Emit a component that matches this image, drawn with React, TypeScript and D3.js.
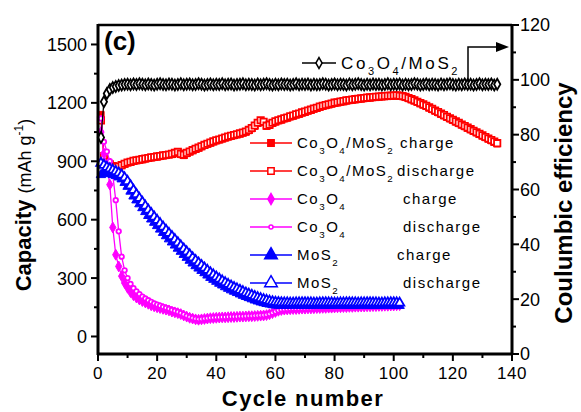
import React from "react";
import * as d3 from "d3";

const ceValues = [79,92,95,96.5,97.2,97.6,97.9,98.1,98.3,98.4,
98.2,98.5,98.3,98.6,98.4,98.2,98.5,98.3,98.1,98.4,
98.6,98.3,98.2,98.5,98.4,98.1,98.3,98.6,98.2,98.4,
98.5,98.2,98.3,98.6,98.4,98.1,98.3,98.5,98.2,98.4,
98.3,98.6,98.2,98.4,98.5,98.1,98.3,98.4,98.6,98.2,
98.4,98.3,98.1,98.5,98.2,98.4,98.6,98.3,98.1,98.4,
98.2,98.5,98.3,98.4,98.1,98.3,98.6,98.2,98.4,98.3,
98.5,98.1,98.4,98.2,98.3,98.6,98.4,98.1,98.3,98.5,
98.2,98.4,98.3,98.1,98.5,98.2,98.4,98.6,98.3,98.1,
98.4,98.2,98.5,98.3,98.4,98.1,98.3,98.6,98.2,98.4,
98.3,98.5,98.1,98.4,98.2,98.3,98.6,98.4,98.1,98.3,
98.5,98.2,98.4,98.3,98.1,98.5,98.2,98.4,98.6,98.3,
98.1,98.4,98.2,98.5,98.3,98.4,98.1,98.3,98.6,98.2,
98.4,98.3,98.5,98.1,98.4];

const compCharge = [1140,920,890,880,872,868,870,878,885,892,
895,900,903,906,908,912,915,918,920,922,
925,928,930,933,935,940,945,935,930,940,
948,955,962,968,975,982,988,994,1000,1005,
1010,1015,1020,1025,1028,1032,1036,1040,1045,1050,
1058,1068,1080,1095,1108,1100,1080,1085,1095,1102,
1108,1112,1118,1122,1128,1132,1138,1142,1148,1152,
1158,1162,1168,1172,1178,1182,1186,1190,1194,1198,
1200,1204,1206,1210,1212,1214,1216,1218,1220,1222,
1224,1225,1227,1228,1230,1231,1232,1233,1234,1235,
1236,1234,1232,1228,1222,1216,1210,1203,1196,1189,
1182,1174,1166,1158,1150,1142,1134,1126,1118,1110,
1102,1094,1086,1078,1070,1062,1054,1046,1038,1030,
1022,1014,1006,998,990];

const compDischarge = [1110,925,895,884,876,871,873,880,887,894,
897,902,905,908,911,914,917,920,922,925,
927,930,932,935,938,943,948,938,933,943,
950,957,964,970,977,984,990,996,1002,1008,
1012,1017,1022,1027,1031,1035,1039,1043,1048,1053,
1061,1071,1084,1098,1111,1103,1083,1088,1098,1105,
1111,1115,1121,1125,1131,1135,1141,1145,1151,1155,
1161,1165,1171,1175,1181,1185,1189,1193,1197,1201,
1203,1207,1209,1213,1215,1217,1219,1221,1223,1225,
1227,1228,1230,1231,1233,1234,1235,1236,1237,1238,
1239,1237,1235,1231,1225,1219,1213,1206,1199,1192,
1185,1177,1169,1161,1153,1145,1137,1129,1121,1113,
1105,1097,1089,1081,1073,1065,1057,1049,1041,1033,
1025,1017,1009,1001,993];

const coCharge = [1050,940,880,780,560,420,360,310,275,250,
228,212,200,190,182,175,168,160,155,150,
146,142,138,134,128,124,120,115,108,102,
96,92,88,86,88,90,92,94,95,96,
97,98,98,99,100,100,101,102,102,103,
104,104,105,106,107,108,110,114,120,126,
132,136,138,139,140,141,141,142,143,143,
144,144,145,146,146,147,147,148,148,149,
150,150,151,151,152,152,153,153,154,154,
155,155,156,156,157,157,158,158,159,159,
160,161];

const coDischarge = [1120,1000,950,900,830,700,540,410,340,300,
270,248,232,218,205,195,186,178,170,164,
158,152,147,142,136,131,126,120,113,106,
100,95,91,89,90,92,94,96,97,98,
99,100,100,101,102,102,103,104,104,105,
106,106,107,108,109,110,112,116,122,128,
134,138,140,141,142,143,143,144,145,145,
146,146,147,148,148,149,149,150,150,151,
152,152,153,153,154,154,155,155,156,156,
157,157,158,158,159,159,160,160,161,162,
163,165];

const mosCharge = [830,845,840,835,830,825,818,808,790,770,
745,720,700,680,660,640,620,602,585,568,
550,533,516,500,484,468,452,436,420,405,
390,376,362,350,338,326,314,302,292,282,
272,263,254,246,238,231,224,217,210,204,
198,192,186,181,176,172,168,165,162,160,
159,158,158,159,159,160,160,159,159,158,
158,159,159,160,160,159,159,158,159,159,
160,160,159,159,158,158,159,159,160,160,
159,159,158,158,159,159,160,160,159,159,
158,158];

const mosDischarge = [890,880,870,862,855,848,840,830,815,797,
775,752,730,710,690,670,650,632,614,597,
580,563,546,530,514,498,482,466,450,435,
420,405,391,378,365,352,340,328,317,306,
296,286,277,268,260,252,245,238,231,224,
218,212,206,200,195,190,186,182,179,176,
175,174,173,173,172,172,173,173,174,174,
173,173,172,172,173,174,174,173,173,172,
172,173,173,174,174,173,173,172,173,173,
174,174,173,173,172,172,173,173,174,174,
173,172];

const xTicks = [0, 20, 40, 60, 80, 100, 120, 140];
const yLeftTicks = [0, 300, 600, 900, 1200, 1500];
const yRightTicks = [0, 20, 40, 60, 80, 100, 120];

const FONT = "'Liberation Sans', Arial, sans-serif";

const x = d3.scaleLinear().domain([0, 140]).range([98, 512]);
const yL = d3.scaleLinear().domain([-90, 1600]).range([354, 25]);
const yR = d3.scaleLinear().domain([0, 120]).range([354, 25]);

type Marker = "squareFill" | "squareOpen" | "diamondFill" | "circleOpen" | "triFill" | "triOpen" | "diamondOpen";

function markerPath(m: Marker, scale = 1): string | null {
  switch (m) {
    case "squareFill":
    case "squareOpen":
      return d3.symbol(d3.symbolSquare, 40 * scale)()!;
    case "diamondFill":
      return d3.symbol(d3.symbolDiamond, 34 * scale)()!;
    case "diamondOpen":
      return d3.symbol(d3.symbolDiamond, 34 * scale)()!;
    case "triFill":
    case "triOpen":
      return d3.symbol(d3.symbolTriangle, 38 * scale)()!;
    case "circleOpen":
      return d3.symbol(d3.symbolCircle, 16 * scale)()!;
  }
  return null;
}

function isOpen(m: Marker) {
  return m === "squareOpen" || m === "circleOpen" || m === "triOpen" || m === "diamondOpen";
}

function Series({ values, color, marker, yScale }: { values: number[]; color: string; marker: Marker; yScale: d3.ScaleLinear<number, number> }) {
  const pts = values.map((v, i) => [x(i + 1), yScale(v)] as [number, number]);
  const line = d3.line()(pts) || "";
  const mp = markerPath(marker);
  const open = isOpen(marker);
  return (
    <g>
      <path d={line} fill="none" stroke={color} strokeWidth={1.3} />
      {pts.map((p, i) => (
        <path
          key={i}
          d={mp || ""}
          transform={`translate(${p[0]},${p[1]})`}
          fill={open ? "#fff" : color}
          stroke={color}
          strokeWidth={open ? 1.8 : 1}
        />
      ))}
    </g>
  );
}

function Chem({ parts, size, sub }: { parts: [string, boolean][]; size: number; sub: number }) {
  let shifted = false;
  return (
    <>
      {parts.map(([t, isSub], i) => {
        let dy = 0;
        if (isSub && !shifted) { dy = sub; shifted = true; }
        else if (!isSub && shifted) { dy = -sub; shifted = false; }
        return (
          <tspan key={i} dy={dy} fontSize={isSub ? size * 0.65 : size}>{t}</tspan>
        );
      })}
    </>
  );
}

const compName: [string, boolean][] = [["Co", false], ["3", true], ["O", false], ["4", true], ["/MoS", false], ["2", true]];
const coName: [string, boolean][] = [["Co", false], ["3", true], ["O", false], ["4", true]];
const mosName: [string, boolean][] = [["MoS", false], ["2", true]];

const legendRows: { name: [string, boolean][]; word: string; color: string; marker: Marker; wordX: number }[] = [
  { name: compName, word: "charge", color: "#ff0000", marker: "squareFill", wordX: 400 },
  { name: compName, word: "discharge", color: "#ff0000", marker: "squareOpen", wordX: 397 },
  { name: coName, word: "charge", color: "#ff00ff", marker: "diamondFill", wordX: 403 },
  { name: coName, word: "discharge", color: "#ff00ff", marker: "circleOpen", wordX: 403 },
  { name: mosName, word: "charge", color: "#0000ff", marker: "triFill", wordX: 397 },
  { name: mosName, word: "discharge", color: "#0000ff", marker: "triOpen", wordX: 403 },
];

export default function App() {
  const xMinor = d3.range(10, 140, 20);
  const yLMinor = d3.range(150, 1600, 300);
  const yRMinor = d3.range(10, 120, 20);
  return (
    <svg width={581} height={412} style={{ position: "absolute", left: 0, top: 0, background: "#fff" }} fontFamily={FONT}>
      <rect x={0} y={0} width={581} height={412} fill="#fff" />

      {/* data */}
      <Series values={compCharge} color="#ff0000" marker="squareFill" yScale={yL} />
      <Series values={compDischarge} color="#ff0000" marker="squareOpen" yScale={yL} />
      <Series values={coCharge} color="#ff00ff" marker="diamondFill" yScale={yL} />
      <Series values={coDischarge} color="#ff00ff" marker="circleOpen" yScale={yL} />
      <Series values={mosCharge} color="#0000ff" marker="triFill" yScale={yL} />
      <Series values={mosDischarge} color="#0000ff" marker="triOpen" yScale={yL} />
      <Series values={ceValues} color="#000" marker="diamondOpen" yScale={yR} />

      {/* frame */}
      <line x1={98} x2={512} y1={25} y2={25} stroke="#000" strokeWidth={2.5} />
      <line x1={98} x2={98} y1={24} y2={355} stroke="#000" strokeWidth={3} />
      <line x1={512} x2={512} y1={24} y2={355} stroke="#000" strokeWidth={3} />
      <line x1={97} x2={513} y1={354} y2={354} stroke="#000" strokeWidth={3} />

      {/* left axis */}
      {yLeftTicks.map((t) => (
        <g key={t}>
          <line x1={91} x2={98} y1={yL(t)} y2={yL(t)} stroke="#000" strokeWidth={2} />
          <text x={87} y={yL(t)} dy="0.36em" textAnchor="end" fontSize={18}>{t}</text>
        </g>
      ))}
      {yLMinor.map((t) => (
        <line key={t} x1={94} x2={98} y1={yL(t)} y2={yL(t)} stroke="#000" strokeWidth={2} />
      ))}

      {/* bottom axis */}
      {xTicks.map((t) => (
        <g key={t}>
          <line x1={x(t)} x2={x(t)} y1={354} y2={361} stroke="#000" strokeWidth={2} />
          <text x={x(t)} y={379} textAnchor="middle" fontSize={17} letterSpacing={0.5}>{t}</text>
        </g>
      ))}
      {xMinor.map((t) => (
        <line key={t} x1={x(t)} x2={x(t)} y1={354} y2={358} stroke="#000" strokeWidth={2} />
      ))}

      {/* right axis */}
      {yRightTicks.map((t) => (
        <g key={t}>
          <line x1={512} x2={519} y1={yR(t)} y2={yR(t)} stroke="#000" strokeWidth={2} />
          <text x={520} y={yR(t)} dy="0.36em" textAnchor="start" fontSize={18}>{t}</text>
        </g>
      ))}
      {yRMinor.map((t) => (
        <line key={t} x1={512} x2={516} y1={yR(t)} y2={yR(t)} stroke="#000" strokeWidth={2} />
      ))}

      {/* axis titles */}
      <text x={303} y={406} textAnchor="middle" fontSize={22} fontWeight="bold" letterSpacing={1.4}>Cycle number</text>
      <text transform="translate(31,205) rotate(-90)" textAnchor="middle">
        <tspan fontSize={22} fontWeight="bold">Capacity </tspan>
        <tspan fontSize={18}>(mAh g</tspan>
        <tspan fontSize={12} dy={-8}>-1</tspan>
        <tspan fontSize={18} dy={8}>)</tspan>
      </text>
      <text transform="translate(572,203) rotate(-90)" textAnchor="middle" fontSize={24} fontWeight="bold">Coulumbic efficiency</text>

      {/* panel label */}
      <text x={104} y={50} fontSize={26} fontWeight="bold">(c)</text>

      {/* CE legend + arrow */}
      <line x1={302} x2={336} y1={63} y2={63} stroke="#000" strokeWidth={1.5} />
      <path d={d3.symbol(d3.symbolDiamond, 34)()!} transform="translate(319,63)" fill="#fff" stroke="#000" strokeWidth={1.5} />
      <text x={341} y={69} fontSize={17} letterSpacing={2.6}>
        <Chem parts={compName} size={17} sub={6} />
      </text>
      <polyline points="468,82 468,47 500,47" fill="none" stroke="#000" strokeWidth={1.5} />
      <polygon points="496,42 509,47 496,52" fill="#000" />

      {/* legend */}
      {legendRows.map((r, i) => {
        const y = 143 + i * 28;
        const open = isOpen(r.marker);
        const scale = r.marker.startsWith("tri") ? 1.8 : r.marker === "circleOpen" ? 0.8 : 1.0;
        return (
          <g key={i}>
            <line x1={250} x2={292} y1={y} y2={y} stroke={r.color} strokeWidth={1.5} />
            <path d={markerPath(r.marker, scale) || ""} transform={`translate(271,${y})`} fill={open ? "#fff" : r.color} stroke={r.color} strokeWidth={1.5} />
            <text x={297} y={y + 5} fontSize={15} letterSpacing={1.5}>
              <Chem parts={r.name} size={15} sub={6} />
            </text>
            <text x={r.wordX} y={y + 5} fontSize={15} letterSpacing={1.5}>{r.word}</text>
          </g>
        );
      })}
    </svg>
  );
}
